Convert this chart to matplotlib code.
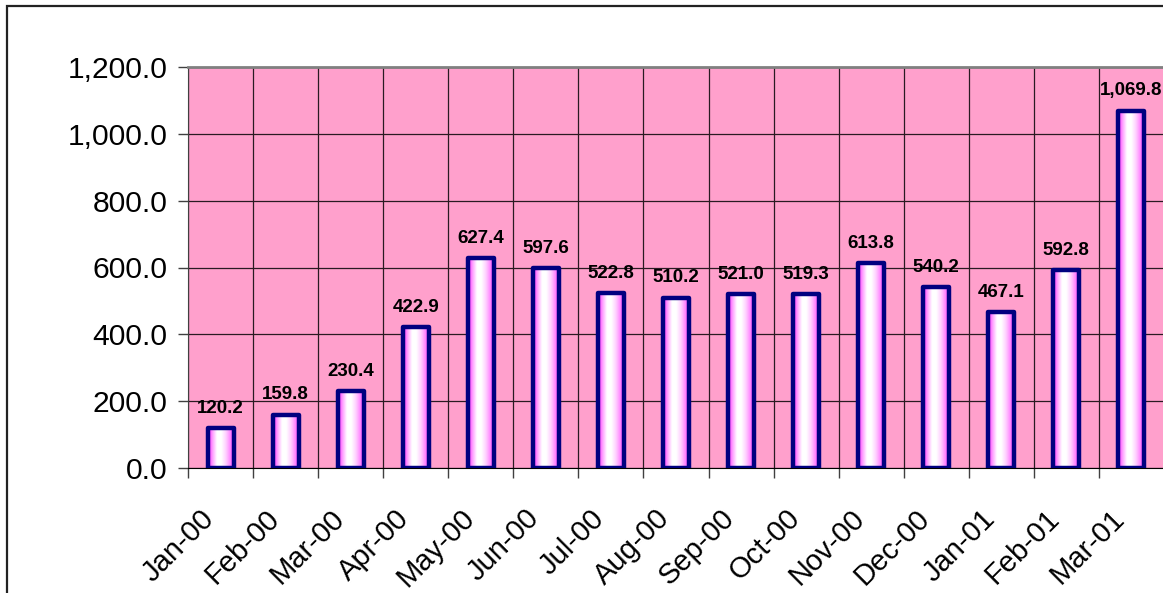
import numpy as np
import matplotlib.pyplot as plt
from matplotlib.colors import LinearSegmentedColormap
from matplotlib.patches import Rectangle

months = ['Jan-00', 'Feb-00', 'Mar-00', 'Apr-00', 'May-00', 'Jun-00', 'Jul-00', 'Aug-00',
          'Sep-00', 'Oct-00', 'Nov-00', 'Dec-00', 'Jan-01', 'Feb-01', 'Mar-01']
values = [120.2, 159.8, 230.4, 422.9, 627.4, 597.6, 522.8, 510.2,
          521.0, 519.3, 613.8, 540.2, 467.1, 592.8, 1069.8]
yticks = [0, 200, 400, 600, 800, 1000, 1200]

plt.rcParams['font.family'] = ['Liberation Sans', 'DejaVu Sans']

fig = plt.figure(figsize=(11.63, 5.93), dpi=100)
ax = fig.add_axes([188 / 1163, 125 / 593, 976 / 1163, 401 / 593])
ax.set_facecolor('#FFA0CC')

# outer chart border (only left/top visible in the crop)
fig.patches.append(Rectangle((7 / 1163, -0.1), 1.2, 0.1 + 587 / 593, transform=fig.transFigure,
                             fill=False, edgecolor='#222222', linewidth=1.6))

# bars with a horizontal magenta-white gradient
grad = LinearSegmentedColormap.from_list('g', ['#FF22FF', '#FFA0FF', '#FFFFFF', '#FFFFFF',
                                               '#FFD0FF', '#FF88FF', '#FF22FF'])
w = 0.4
x = np.arange(len(values))
strip = np.linspace(0, 1, 64).reshape(1, -1)
for xi, v in zip(x, values):
    ax.imshow(strip, cmap=grad, aspect='auto', extent=[xi - w / 2, xi + w / 2, 0, v],
              zorder=3, interpolation='bilinear')
bars = ax.bar(x, values, width=w, facecolor='none', edgecolor='#000080', linewidth=3.2,
              joinstyle='round', zorder=4)
for xi, v in zip(x, values):
    ax.annotate(f'{v:,.1f}', (xi, v), xytext=(0, 8), textcoords='offset points',
                ha='center', va='bottom', fontsize=13.5, fontweight='bold', zorder=5)

ax.set_xlim(-0.5, len(values) - 0.5)
ax.set_ylim(0, 1200)
ax.set_yticks(yticks)
ax.set_yticklabels([f'{t:,.1f}' for t in yticks], fontsize=21.6)
ax.set_xticks(np.arange(len(values) + 1) - 0.5)
ax.set_xticklabels([])
# category labels, rotated, hanging below each category centre
for xi, m in zip(x, months):
    ax.annotate(m, (xi, 0), xycoords=('data', 'axes fraction'), xytext=(-15, -26),
                textcoords='offset points', rotation=45, rotation_mode='anchor',
                ha='right', va='top', fontsize=21, annotation_clip=False)
ax.tick_params(axis='x', which='major', length=7, width=1, color='#404040', direction='out')
ax.tick_params(axis='y', length=7, width=1, color='#404040', pad=8)

ax.grid(True, which='major', color='#2a1a22', linewidth=0.9, zorder=1)
ax.set_axisbelow(True)
ax.spines['top'].set_color('#808080')
ax.spines['top'].set_linewidth(2)
ax.spines['right'].set_visible(False)
ax.spines['left'].set_color('#404040')
ax.spines['bottom'].set_color('#000000')

fig.savefig('out.png', dpi=100)
